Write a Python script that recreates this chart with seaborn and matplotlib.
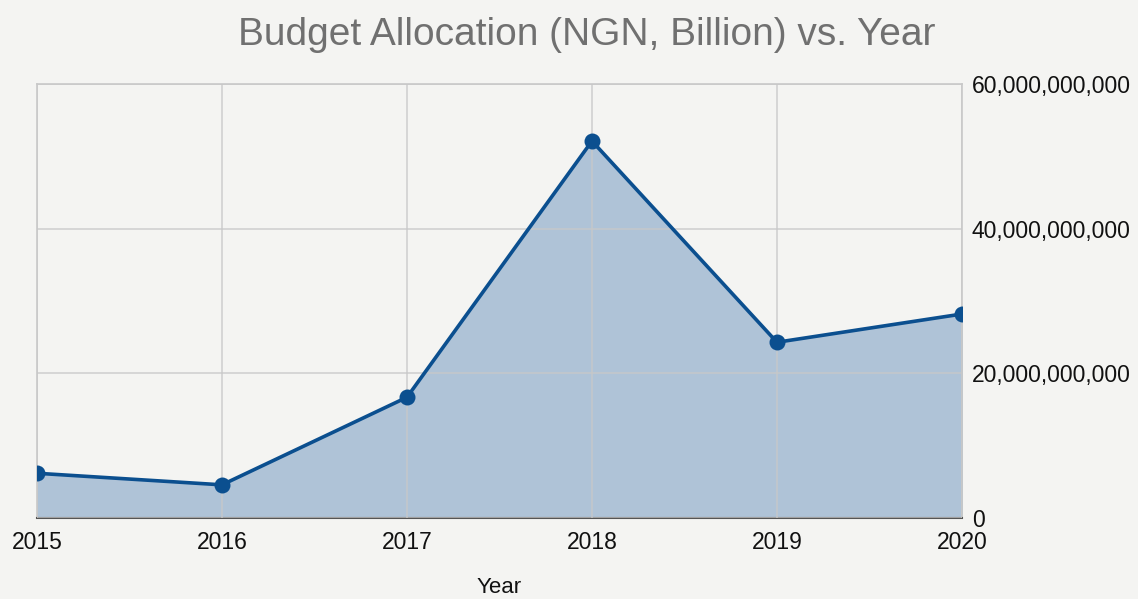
import pandas as pd
import matplotlib
matplotlib.use('Agg')
import matplotlib.pyplot as plt
import seaborn as sns
from matplotlib.ticker import FuncFormatter

# Data
years = [2015, 2016, 2017, 2018, 2019, 2020]
budget = [6.2e9, 4.6e9, 16.7e9, 52.1e9, 24.3e9, 28.2e9]
df = pd.DataFrame({'Year': years, 'Budget': budget})

sns.set_style("white")
plt.rcParams['font.family'] = ['Liberation Sans', 'DejaVu Sans']

bg = '#f4f4f2'
line_color = '#0b4f8f'
fill_color = '#afc3d7'

fig = plt.figure(figsize=(11.38, 5.99), dpi=100, facecolor=bg)
ax = fig.add_axes([0.0325, 0.135, 0.8128, 0.725])
ax.set_facecolor(bg)

ax.fill_between(df['Year'], df['Budget'], color=fill_color, zorder=1)
sns.lineplot(data=df, x='Year', y='Budget', ax=ax, color=line_color,
             linewidth=2.6, marker='o', markersize=11.5, markeredgewidth=0, zorder=3)

ax.set_xlim(2015, 2020)
ax.set_ylim(0, 60e9)
ax.set_xticks(years)
ax.set_yticks([0, 20e9, 40e9, 60e9])
ax.yaxis.set_major_formatter(FuncFormatter(lambda v, p: f'{int(v):,}'))
ax.yaxis.tick_right()
ax.tick_params(axis='both', length=0, labelsize=16.5, colors='#111111')
ax.tick_params(axis='y', pad=7)
ax.tick_params(axis='x', pad=9)

ax.grid(True, color='#c8c8c8', linewidth=1.2, zorder=2)
ax.set_axisbelow(False)
for line in ax.get_xgridlines() + ax.get_ygridlines():
    line.set_alpha(0.8)

for side in ['left', 'top', 'right']:
    ax.spines[side].set_color('#c8c8c8')
    ax.spines[side].set_linewidth(1.2)
ax.spines['bottom'].set_color('#555555')
ax.spines['bottom'].set_linewidth(1.5)

ax.set_xlabel('Year', fontsize=16, color='#111111', labelpad=17)
ax.set_ylabel('')
fig.text(0.516, 0.942, 'Budget Allocation (NGN, Billion) vs. Year',
         ha='center', va='center', fontsize=28, color='#707070')

fig.savefig('out.png', dpi=100, facecolor=bg)
